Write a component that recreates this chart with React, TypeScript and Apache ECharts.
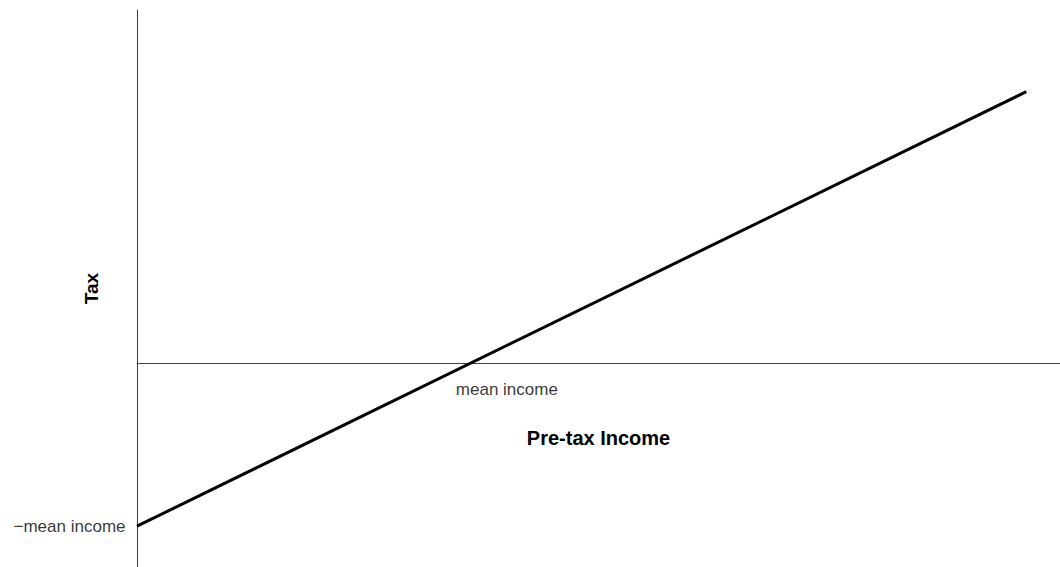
import React, { useEffect, useRef } from "react";
import * as echarts from "echarts";

const incomeValues = [0, 264];
const taxValues = [-100, 166];
const meanIncome = 100;
const yTickLabel = "\u2212mean income";
const xTickLabel = "mean income";
const xAxisName = "Pre-tax Income";
const yAxisName = "Tax";

export default function App() {
  const ref = useRef<HTMLDivElement>(null);
  useEffect(() => {
    if (!ref.current) return;
    const chart = echarts.init(ref.current, undefined, { renderer: "svg" });
    const font = "Liberation Sans, Arial, sans-serif";
    chart.setOption({
      animation: false,
      grid: { left: 137, right: 0, top: 10, bottom: 0, containLabel: false, outerBoundsMode: "none" },
      xAxis: {
        type: "value",
        min: 0,
        max: 274,
        name: xAxisName,
        nameLocation: "middle",
        nameGap: -139,
        nameTextStyle: { fontFamily: font, fontSize: 20, fontWeight: "bold", color: "#000", verticalAlign: "top" },
        axisLine: { onZero: true, lineStyle: { color: "#404040", width: 1 } },
        axisTick: { show: false },
        axisLabel: { show: false },
        splitLine: { show: false },
      },
      yAxis: {
        type: "value",
        min: -125,
        max: 216,
        name: yAxisName,
        nameLocation: "middle",
        nameGap: 36,
        nameRotate: 90,
        nameTextStyle: { fontFamily: font, fontSize: 19, fontWeight: "bold", color: "#000" },
        axisLine: { show: true, onZero: false, lineStyle: { color: "#404040", width: 1 } },
        axisTick: { show: false },
        axisLabel: { show: false },
        splitLine: { show: false },
      },
      series: [
        {
          type: "line",
          data: incomeValues.map((x, i) => [x, taxValues[i]]),
          symbol: "none",
          lineStyle: { color: "#000", width: 3 },
          z: 3,
        },
        {
          type: "scatter",
          data: [
            {
              value: [0, -meanIncome],
              label: {
                show: true,
                position: "left",
                distance: 11,
                formatter: yTickLabel,
                fontFamily: font,
                fontSize: 17,
                color: "#000",
              },
            },
            {
              value: [meanIncome, 0],
              label: {
                show: true,
                position: "bottom",
                offset: [33, 0],
                distance: 18,
                formatter: xTickLabel,
                fontFamily: font,
                fontSize: 17,
                color: "#000",
              },
            },
          ],
          symbolSize: 1,
          itemStyle: { color: "rgba(0,0,0,0)" },
          silent: true,
        },
      ],
    });
    return () => chart.dispose();
  }, []);
  return (
    <div
      ref={ref}
      style={{ position: "fixed", left: 0, top: 0, width: 1060, height: 567, background: "#fff" }}
    />
  );
}
